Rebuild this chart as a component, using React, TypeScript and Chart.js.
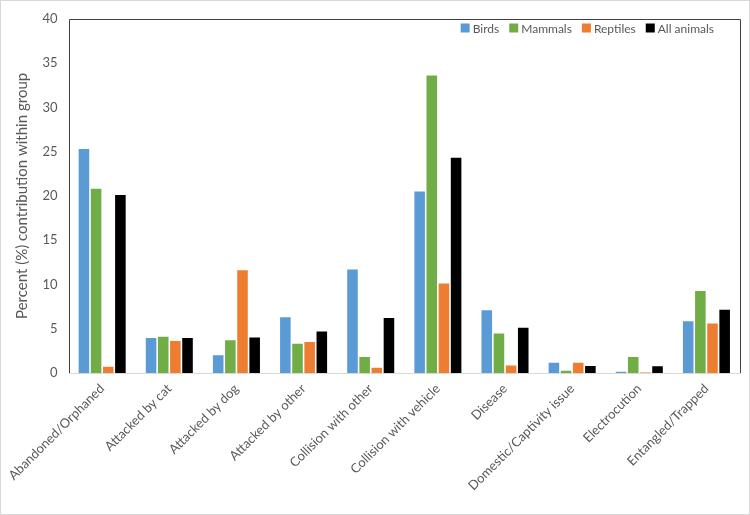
import React, { useEffect, useRef } from "react";
import { Chart, registerables } from "chart.js";

Chart.register(...registerables);

const categories = [
  "Abandoned/Orphaned",
  "Attacked by cat",
  "Attacked by dog",
  "Attacked by other",
  "Collision with other",
  "Collision with vehicle",
  "Disease",
  "Domestic/Captivity issue",
  "Electrocution",
  "Entangled/Trapped",
];
const seriesNames = ["Birds", "Mammals", "Reptiles", "All animals"];
const birds = [25.3, 3.95, 2.0, 6.3, 11.7, 20.5, 7.1, 1.15, 0.15, 5.85];
const mammals = [20.8, 4.1, 3.7, 3.3, 1.8, 33.6, 4.45, 0.25, 1.8, 9.25];
const reptiles = [0.7, 3.6, 11.6, 3.5, 0.6, 10.1, 0.85, 1.15, 0.05, 5.6];
const allAnimals = [20.1, 3.95, 4.0, 4.7, 6.2, 24.3, 5.1, 0.8, 0.75, 7.15];
const yTicks = [0, 5, 10, 15, 20, 25, 30, 35, 40];

const colors = ["#5B9BD5", "#70AD47", "#ED7D31", "#000000"];
const FONT = "Lato, 'Open Sans', sans-serif";
const TEXT = "#595959";

const framePlugin = {
  id: "frame",
  beforeDraw(chart: any) {
    const ctx = chart.ctx;
    ctx.save();
    ctx.fillStyle = "#ffffff";
    ctx.fillRect(0, 0, chart.width, chart.height);
    ctx.strokeStyle = "#d9d9d9";
    ctx.lineWidth = 1;
    ctx.strokeRect(0.5, 0.5, chart.width - 1, chart.height - 1);
    ctx.restore();
  },
  afterDraw(chart: any) {
    const ctx = chart.ctx;
    const a = chart.chartArea;
    ctx.save();
    ctx.strokeStyle = "#404040";
    ctx.lineWidth = 1;
    ctx.beginPath();
    ctx.moveTo(Math.round(a.left) + 0.5, Math.round(a.bottom));
    ctx.lineTo(Math.round(a.left) + 0.5, Math.round(a.top) + 0.5);
    ctx.lineTo(Math.round(a.right) + 0.5, Math.round(a.top) + 0.5);
    ctx.lineTo(Math.round(a.right) + 0.5, Math.round(a.bottom));
    ctx.stroke();
    ctx.strokeStyle = "#d9d9d9";
    ctx.beginPath();
    ctx.moveTo(Math.round(a.left), Math.round(a.bottom) + 0.5);
    ctx.lineTo(Math.round(a.right) + 1, Math.round(a.bottom) + 0.5);
    ctx.stroke();

    // legend
    ctx.font = `12px ${FONT}`;
    ctx.textBaseline = "middle";
    ctx.textAlign = "left";
    const sw = 9;
    const gapSw = 3;
    const gapItem = 10;
    const widths = chart.data.datasets.map((d: any) => ctx.measureText(d.label).width);
    let total = 0;
    widths.forEach((w: number, i: number) => {
      total += sw + gapSw + w + (i < widths.length - 1 ? gapItem : 0);
    });
    let x = 714 - total;
    const y = 28;
    chart.data.datasets.forEach((d: any, i: number) => {
      ctx.fillStyle = d.backgroundColor;
      ctx.fillRect(x, y - sw / 2, sw, sw);
      x += sw + gapSw;
      ctx.fillStyle = TEXT;
      ctx.fillText(d.label, x, y + 1);
      x += widths[i] + gapItem;
    });
    ctx.restore();
  },
};

export default function App() {
  const ref = useRef<HTMLCanvasElement | null>(null);
  useEffect(() => {
    document.body.style.margin = "0";
    const canvas = ref.current;
    if (!canvas) return;
    const seriesData = [birds, mammals, reptiles, allAnimals];
    const chart = new Chart(canvas, {
      type: "bar",
      data: {
        labels: categories,
        datasets: seriesNames.map((name, i) => ({
          label: name,
          data: seriesData[i],
          backgroundColor: colors[i],
          borderWidth: 0,
          categoryPercentage: 0.724,
          barPercentage: 0.87,
        })),
      },
      options: {
        responsive: false,
        animation: false,
        devicePixelRatio: 1,
        layout: { padding: { top: 12, right: 10, left: 0, bottom: 0 } },
        plugins: {
          legend: { display: false },
          tooltip: { enabled: false },
        },
        scales: {
          x: {
            grid: { display: false, drawTicks: false },
            border: { display: false },
            ticks: {
              autoSkip: false,
              maxRotation: 45,
              minRotation: 45,
              padding: 8,
              color: TEXT,
              font: { family: FONT, size: 13 },
            },
            afterFit: (s: any) => {
              s.height = 142;
            },
          },
          y: {
            min: 0,
            max: 40,
            grid: { display: false, drawTicks: false },
            border: { display: false },
            afterBuildTicks: (s: any) => {
              s.ticks = yTicks.map((v) => ({ value: v }));
            },
            ticks: {
              padding: 11,
              color: TEXT,
              font: { family: FONT, size: 13 },
            },
            title: {
              display: true,
              text: "Percent (%) contribution within group",
              color: TEXT,
              font: { family: FONT, size: 15 },
              padding: { top: 4, bottom: 0 },
            },
            afterFit: (s: any) => {
              s.width = 59;
            },
          },
        },
      },
      plugins: [framePlugin],
    });
    return () => chart.destroy();
  }, []);
  return <canvas ref={ref} width={750} height={515} style={{ display: "block" }} />;
}
